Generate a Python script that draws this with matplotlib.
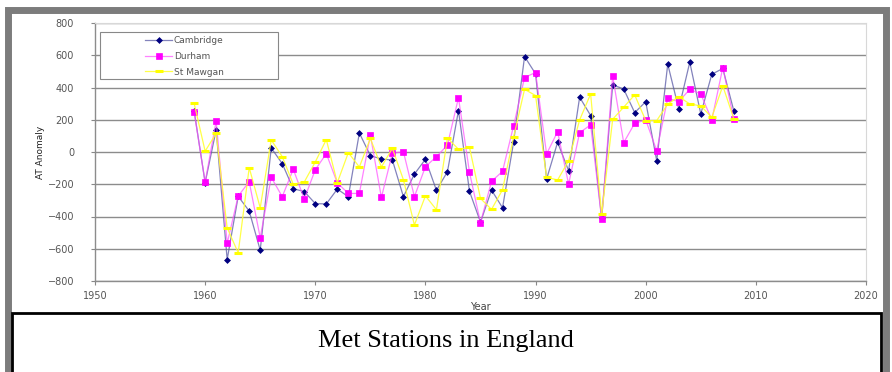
import matplotlib
matplotlib.use("Agg")
import matplotlib.pyplot as plt
from matplotlib.patches import Rectangle

years = list(range(1959, 2009))

cambridge = [255, -190, 137, -667, -275, -366, -609, 25, -72, -228,
             -245, -320, -322, -230, -277, 118, -23, -43, -50, -277,
             -137, -45, -238, -122, 257, -244, -435, -236, -346, 59,
             592, 485, -168, 60, -116, 340, 226, -412, 416, 391,
             244, 312, -54, 545, 267, 557, 236, 482, 518, 255]

durham = [250, -188, 192, -567, -273, -184, -532, -157, -277, -107,
          -291, -110, -10, -192, -257, -257, 105, -282, -8, 2,
          -277, -91, -29, 43, 337, -126, -439, -182, -120, 161,
          462, 493, -12, 126, -199, 120, 168, -416, 472, 58,
          178, 199, 8, 333, 312, 389, 360, 199, 524, 203]

st_mawgan = [302, 5, 116, -470, -625, -97, -346, 75, -29, -200,
             -186, -62, 77, -190, -4, -93, 84, -93, 23, -172,
             -453, -272, -358, 87, 17, 29, -288, -356, -234, 91,
             389, 350, -156, -174, -54, 199, 360, -385, 203, 278,
             354, 195, 195, 297, 343, 298, 286, 215, 410, 205]

x_ticks = [1950, 1960, 1970, 1980, 1990, 2000, 2010, 2020]
y_ticks = [-800, -600, -400, -200, 0, 200, 400, 600, 800]

W, H = 892, 372
fig = plt.figure(figsize=(W / 100, H / 100), dpi=100)
fig.patch.set_facecolor("white")

# gray frame around the whole sheet
frame_gray = "#7c7c7c"
fig.patches.append(Rectangle((8 / W, -0.1), 878 / W, (H - 9.5) / H + 0.1,
                             transform=fig.transFigure, fill=False,
                             edgecolor=frame_gray, linewidth=5, zorder=0))

# caption box under the chart
fig.patches.append(Rectangle((12 / W, -0.05), 869 / W, (H - 313) / H + 0.05,
                             transform=fig.transFigure, fill=False,
                             edgecolor="black", linewidth=2, zorder=1))
fig.text(0.5, (H - 341) / H, "Met Stations in England", ha="center", va="center",
         fontsize=19, family="Liberation Serif", color="black")

AW, AH = 771, 258
ax = fig.add_axes([95 / W, (H - 281) / H, AW / W, AH / H])

series = [
    ("Cambridge", cambridge, "#000080", "D", 3.0, (0.35, 0.35, 0.65, 0.75)),
    ("Durham", durham, "#ff00ff", "s", 4.8, (1.0, 0.3, 1.0, 0.7)),
    ("St Mawgan", st_mawgan, "#ffff00", "_", 6.0, (1.0, 1.0, 0.2, 0.9)),
]
handles = []
for name, vals, col, mk, ms, line_col in series:
    mew = 2.2 if mk == "_" else 0.5
    h, = ax.plot(years, vals, color=line_col, linewidth=0.9, marker=mk,
                 markersize=ms, markerfacecolor=col, markeredgecolor=col,
                 markeredgewidth=mew, label=name)
    handles.append(h)

ax.set_xlim(1950, 2020)
ax.set_ylim(-800, 800)
ax.set_xticks(x_ticks)
ax.set_yticks(y_ticks)
ax.tick_params(axis="both", labelsize=7, labelcolor="#555555", color="#888888",
               length=3, width=0.8)
ax.tick_params(axis="y", pad=12)
ax.tick_params(axis="x", pad=4)
ax.grid(axis="y", color="#8c8c8c", linewidth=1.0)
ax.set_axisbelow(True)
for side in ["top", "right"]:
    ax.spines[side].set_color("#d8d8d8")
for side in ["left", "bottom"]:
    ax.spines[side].set_color("#8c8c8c")
    ax.spines[side].set_linewidth(1.0)

ax.set_xlabel("Year", fontsize=7, color="#444444", labelpad=1)
ax.set_ylabel("AT Anomaly", fontsize=6.5, color="#222222", labelpad=1.5)

# legend box drawn separately so it can be wider than its entries
ax.add_patch(Rectangle((5 / AW, 1 - 79 / AH + 23 / AH), 178 / AW, 47 / AH,
                       transform=ax.transAxes, facecolor="white",
                       edgecolor="#888888", linewidth=0.8, zorder=4))
leg = ax.legend(handles=handles, loc="upper left",
                bbox_to_anchor=(50 / AW, 1 - 13 / AH),
                fontsize=6.5, frameon=False, borderpad=0,
                labelspacing=0.75, handlelength=3.0, handletextpad=0.2,
                borderaxespad=0)
leg.set_zorder(5)
for t in leg.get_texts():
    t.set_color("#555555")

fig.savefig("out.png", dpi=100)
